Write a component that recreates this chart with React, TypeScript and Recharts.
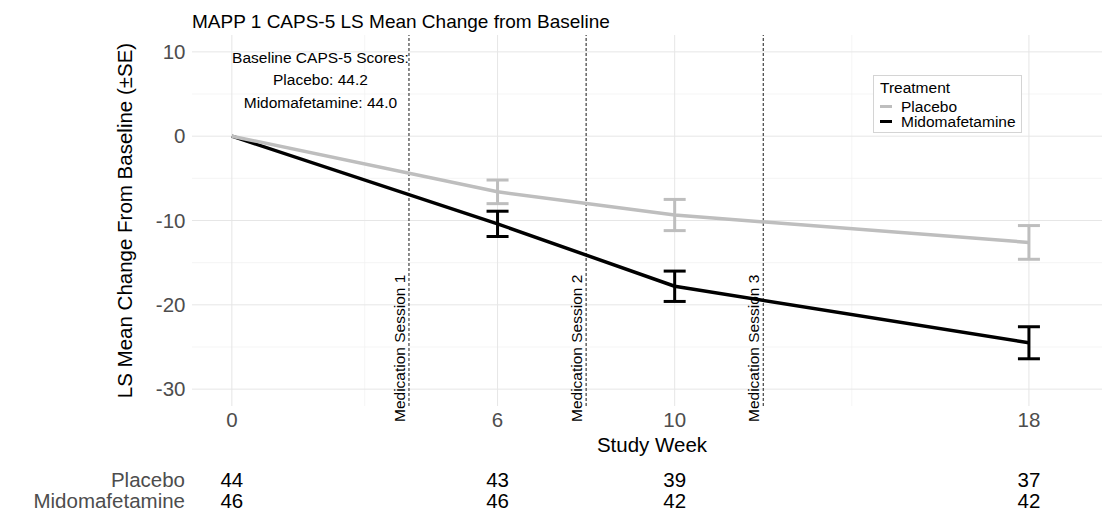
import React from "react";
import { ComposedChart, Line, XAxis, YAxis, CartesianGrid, ErrorBar, ReferenceLine, ReferenceDot, Legend, Label } from "recharts";

// values
const weeks = [0, 6, 10, 18];
const placeboMean = [0, -6.6, -9.35, -12.6];
const placeboSE = [0, 1.4, 1.85, 2.0];
const midoMean = [0, -10.4, -17.8, -24.5];
const midoSE = [0, 1.5, 1.8, 1.9];
const placeboN = [44, 43, 39, 37];
const midoN = [46, 46, 42, 42];

const sessionWeeks = [4, 8, 12];
const sessionLabels = ["Medication Session 1", "Medication Session 2", "Medication Session 3"];
const baselineText = ["Baseline CAPS-5 Scores:", "Placebo: 44.2", "Midomafetamine: 44.0"];

const yTicks = [10, 0, -10, -20, -30];
const yMinor = [5, -5, -15, -25];
const xMinor = [3, 8, 14];

const FONT = "'Liberation Sans', Arial, Helvetica, sans-serif";
const GREY = "#bebebe";
const BLACK = "#000000";

const data = weeks.map((week, i) => ({
  week,
  placebo: placeboMean[i],
  placeboErr: placeboSE[i],
  mido: midoMean[i],
  midoErr: midoSE[i],
}));

function WeekTick(props: any) {
  const { x, y, payload } = props;
  const i = weeks.indexOf(payload.value);
  return (
    <g>
      <text x={x} y={y + 20.5} textAnchor="middle" fill="#4d4d4d" fontSize={20.5}>{payload.value}</text>
      <text x={x} y={y + 80.5} textAnchor="middle" fill={BLACK} fontSize={20.5}>{placeboN[i]}</text>
      <text x={x} y={y + 101.5} textAnchor="middle" fill={BLACK} fontSize={20.5}>{midoN[i]}</text>
    </g>
  );
}

function XTitle(props: any) {
  const vb = props.viewBox;
  return (
    <g>
      <text x={vb.x + vb.width / 2 + 5} y={vb.y + 45.5} textAnchor="middle" fill={BLACK} fontSize={20.5}>Study Week</text>
      <text x={vb.x - 7} y={vb.y + 80.5} textAnchor="end" fill="#4d4d4d" fontSize={20.5}>Placebo</text>
      <text x={vb.x - 7} y={vb.y + 101.5} textAnchor="end" fill="#4d4d4d" fontSize={20.5}>Midomafetamine</text>
    </g>
  );
}

function YTitle(props: any) {
  const vb = props.viewBox;
  const x = vb.x + 20;
  const y = vb.y + vb.height / 2;
  return (
    <text x={x} y={y} transform={`rotate(-90 ${x} ${y})`} textAnchor="middle" fill={BLACK} fontSize={20.5}>
      LS Mean Change From Baseline (±SE)
    </text>
  );
}

function SessionLabel(props: any) {
  const vb = props.viewBox;
  const x = vb.x - 4;
  const y = vb.y + vb.height + 16;
  return (
    <text x={x} y={y} transform={`rotate(-90 ${x} ${y})`} textAnchor="start" fill={BLACK} fontSize={15.5}>
      {props.text}
    </text>
  );
}

function BaselineNote(props: any) {
  const vb = props.viewBox;
  const cx = vb.x + vb.width / 2;
  const cy = vb.y + vb.height / 2;
  return (
    <g>
      {baselineText.map((t, i) => (
        <text key={t} x={cx} y={cy + (i - 1) * 22.3 + 5.5} textAnchor="middle" fill={BLACK} fontSize={15.5}>{t}</text>
      ))}
    </g>
  );
}

function TreatmentLegend() {
  const items = [
    { name: "Placebo", color: GREY },
    { name: "Midomafetamine", color: BLACK },
  ];
  return (
    <div style={{ boxSizing: "border-box", position: "relative", width: 149, height: 58, border: "1px solid #d4d4d4", background: "#fff", fontFamily: FONT, color: BLACK }}>
      <div style={{ position: "absolute", left: 6, top: 3, fontSize: 15.5, lineHeight: "18px", whiteSpace: "nowrap" }}>Treatment</div>
      {items.map((it, i) => (
        <div key={it.name} style={{ position: "absolute", left: 6, top: 23 + i * 15, height: 15, display: "flex", alignItems: "center" }}>
          <span style={{ display: "inline-block", width: 12, height: 3.5, background: it.color, marginRight: 9 }} />
          <span style={{ fontSize: 15.5, lineHeight: "15px", whiteSpace: "nowrap" }}>{it.name}</span>
        </div>
      ))}
    </div>
  );
}

export default function App() {
  return (
    <div style={{ position: "absolute", left: 0, top: 0, width: 1102, height: 512, background: "#fff", fontFamily: FONT }}>
      <div style={{ position: "absolute", left: 192, top: 12, fontSize: 19, lineHeight: "19px", whiteSpace: "nowrap", color: BLACK, zIndex: 2 }}>
        MAPP 1 CAPS-5 LS Mean Change from Baseline
      </div>
      <ComposedChart
        width={1102}
        height={512}
        data={data}
        margin={{ top: 35, right: 0, bottom: 0, left: 112 }}
        style={{ fontFamily: FONT }}
      >
        <CartesianGrid horizontalValues={yMinor} verticalValues={xMinor} stroke="#f0f0f0" strokeWidth={0.7} />
        <CartesianGrid horizontalValues={yTicks} verticalValues={weeks} stroke="#e6e6e6" strokeWidth={1} />
        <XAxis
          dataKey="week"
          type="number"
          domain={[-0.9, 19.65]}
          allowDataOverflow
          ticks={weeks}
          interval={0}
          axisLine={false}
          tickLine={false}
          tickSize={0}
          tickMargin={0}
          height={106}
          tick={<WeekTick />}
        >
          <Label content={<XTitle />} />
        </XAxis>
        <YAxis
          type="number"
          domain={[-32, 12]}
          allowDataOverflow
          ticks={yTicks}
          interval={0}
          axisLine={false}
          tickLine={false}
          tickSize={0}
          tickMargin={6.5}
          width={80}
          tick={{ fill: "#4d4d4d", fontSize: 20.5 }}
        >
          <Label content={<YTitle />} />
        </YAxis>
        {sessionWeeks.map((w, i) => (
          <ReferenceLine
            key={w}
            x={w}
            stroke="#1a1a1a"
            strokeWidth={1}
            strokeDasharray="3 2"
            label={<SessionLabel text={sessionLabels[i]} />}
          />
        ))}
        <ReferenceDot x={2} y={6.67} r={1} fill="none" stroke="none" label={<BaselineNote />} />
        <Line
          dataKey="mido"
          name="Midomafetamine"
          type="linear"
          stroke={BLACK}
          strokeWidth={3.5}
          strokeLinejoin="round"
          dot={false}
          activeDot={false}
          isAnimationActive={false}
        >
          <ErrorBar dataKey="midoErr" direction="y" width={11} stroke={BLACK} strokeWidth={3} isAnimationActive={false} />
        </Line>
        <Line
          dataKey="placebo"
          name="Placebo"
          type="linear"
          stroke={GREY}
          strokeWidth={3.5}
          strokeLinejoin="round"
          dot={false}
          activeDot={false}
          isAnimationActive={false}
        >
          <ErrorBar dataKey="placeboErr" direction="y" width={11} stroke={GREY} strokeWidth={3} isAnimationActive={false} />
        </Line>
        <Legend
          layout="vertical"
          align="center"
          verticalAlign="middle"
          content={<TreatmentLegend />}
          wrapperStyle={{ left: 873, top: 75, width: 149, height: 58 }}
        />
      </ComposedChart>
    </div>
  );
}
